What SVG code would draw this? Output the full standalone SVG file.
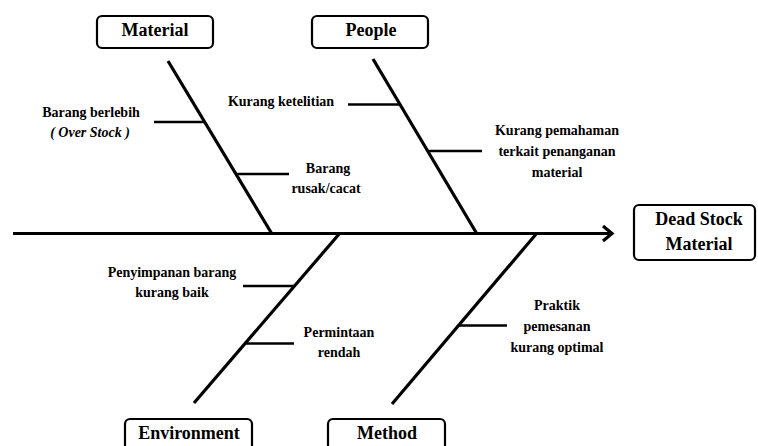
<svg xmlns="http://www.w3.org/2000/svg" width="758" height="446" viewBox="0 0 758 446">
<style>
.box{fill:#fff;stroke:#000;stroke-width:2.2}
.cat{font-family:"Liberation Serif","Times New Roman",serif;font-weight:bold;font-size:18px;text-anchor:middle;fill:#000}
.lbl{font-family:"Liberation Serif","Times New Roman",serif;font-weight:bold;font-size:14px;text-anchor:middle;fill:#000}
.bone{stroke:#000;stroke-width:3.2;fill:none;stroke-linecap:butt}
.sub{stroke:#000;stroke-width:2.6;fill:none}
</style>
<rect width="758" height="446" fill="#fff"/>
<g id="connectors">
<line class="bone" x1="13" y1="233.5" x2="611" y2="233.5"/>
<polyline class="bone" points="603,226 612,233.5 603,241" stroke-linejoin="miter"/>
<line class="bone" x1="168" y1="61" x2="272" y2="234"/>
<line class="bone" x1="373" y1="59" x2="477" y2="234"/>
<line class="bone" x1="340" y1="233" x2="194" y2="403"/>
<line class="bone" x1="537" y1="233" x2="392" y2="404"/>
<line class="sub" x1="154" y1="122" x2="205" y2="122"/>
<line class="sub" x1="237" y1="174" x2="289" y2="174"/>
<line class="sub" x1="348" y1="104.5" x2="400" y2="104.5"/>
<line class="sub" x1="429" y1="151" x2="482" y2="151"/>
<line class="sub" x1="243" y1="286" x2="294" y2="286"/>
<line class="sub" x1="245" y1="343.5" x2="294" y2="343.5"/>
<line class="sub" x1="458" y1="325.5" x2="507" y2="325.5"/>
</g>
<g id="material">
<rect class="box" x="97" y="16" width="116" height="32" rx="5"/>
<text class="cat" x="155" y="36">Material</text>
</g>
<g id="people">
<rect class="box" x="312" y="16" width="116" height="32" rx="5"/>
<text class="cat" x="371" y="36">People</text>
</g>
<g id="environment">
<rect class="box" x="125" y="419" width="127" height="36" rx="5"/>
<text class="cat" x="189" y="439">Environment</text>
</g>
<g id="method">
<rect class="box" x="328" y="419" width="117" height="36" rx="5"/>
<text class="cat" x="387" y="439">Method</text>
</g>
<g id="effect">
<rect class="box" x="634" y="205" width="121" height="55" rx="5"/>
<text class="cat" x="699" y="225">Dead Stock</text>
<text class="cat" x="699" y="250">Material</text>
</g>
<g id="cause-overstock">
<text class="lbl" x="91" y="117">Barang berlebih</text>
<text class="lbl" x="90" y="137" font-style="italic">( Over Stock )</text>
</g>
<g id="cause-rusak">
<text class="lbl" x="328" y="173">Barang</text>
<text class="lbl" x="326" y="193">rusak/cacat</text>
</g>
<g id="cause-ketelitian">
<text class="lbl" x="281" y="106">Kurang ketelitian</text>
</g>
<g id="cause-pemahaman">
<text class="lbl" x="557" y="135">Kurang pemahaman</text>
<text class="lbl" x="557" y="156">terkait penanganan</text>
<text class="lbl" x="557" y="177">material</text>
</g>
<g id="cause-penyimpanan">
<text class="lbl" x="172" y="277">Penyimpanan barang</text>
<text class="lbl" x="172" y="297">kurang baik</text>
</g>
<g id="cause-permintaan">
<text class="lbl" x="339" y="337">Permintaan</text>
<text class="lbl" x="339" y="357">rendah</text>
</g>
<g id="cause-praktik">
<text class="lbl" x="557" y="310">Praktik</text>
<text class="lbl" x="557" y="331">pemesanan</text>
<text class="lbl" x="557" y="352">kurang optimal</text>
</g>
</svg>
